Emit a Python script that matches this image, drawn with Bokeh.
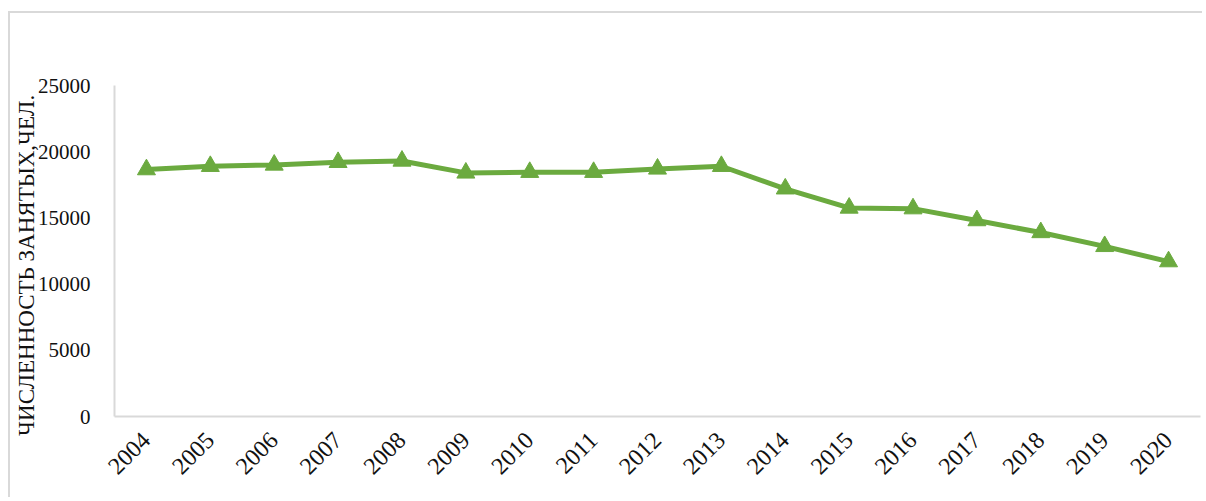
import math
from bokeh.plotting import figure
from bokeh.models import Range1d, FixedTicker
from bokeh.embed import file_html
from bokeh.resources import INLINE

years = ["2004", "2005", "2006", "2007", "2008", "2009", "2010", "2011", "2012",
         "2013", "2014", "2015", "2016", "2017", "2018", "2019", "2020"]
employed = [18650, 18900, 19000, 19200, 19300, 18400, 18450, 18450, 18700,
            18900, 17200, 15750, 15700, 14800, 13900, 12850, 11700]
y_ticks = [0, 5000, 10000, 15000, 20000, 25000]
y_title = "ЧИСЛЕННОСТЬ ЗАНЯТЫХ,ЧЕЛ."

GREEN = "#6BAA3F"
FONT = "Liberation Serif"

p = figure(x_range=years, y_range=Range1d(0, 25000), width=1194, height=486,
           output_backend="svg", toolbar_location=None,
           min_border_left=103, min_border_right=4, min_border_top=72, min_border_bottom=83)
p.margin = (11, 0, 0, 8)
p.styles = {"border-left": "2px solid #d9d9d9", "border-top": "2px solid #d9d9d9"}
p.outline_line_color = None
p.xgrid.grid_line_color = None
p.ygrid.grid_line_color = None

p.line(years, employed, line_color=GREEN, line_width=5)
p.scatter(years, employed, marker="triangle", size=18, fill_color=GREEN, line_color=GREEN)

p.yaxis.ticker = FixedTicker(ticks=y_ticks)
for ax in (p.xaxis, p.yaxis):
    ax.axis_line_color = "#d9d9d9"
    ax.axis_line_width = 2
    ax.major_tick_line_color = None
    ax.minor_tick_line_color = None
    ax.major_label_text_font = FONT
    ax.major_label_text_color = "#111111"
p.yaxis.major_label_text_font_size = "21px"
p.xaxis.major_label_text_font_size = "24px"
p.yaxis.major_label_standoff = 18
p.xaxis.major_label_standoff = 14
p.xaxis.major_label_orientation = math.pi / 4

p.yaxis.axis_label = y_title + "\u00a0" * 5
p.yaxis.axis_label_text_font = FONT
p.yaxis.axis_label_text_font_size = "23px"
p.yaxis.axis_label_text_font_style = "normal"
p.yaxis.axis_label_text_color = "#111111"
p.yaxis.axis_label_standoff = -4

open("out.html", "w").write(file_html(p, INLINE))
